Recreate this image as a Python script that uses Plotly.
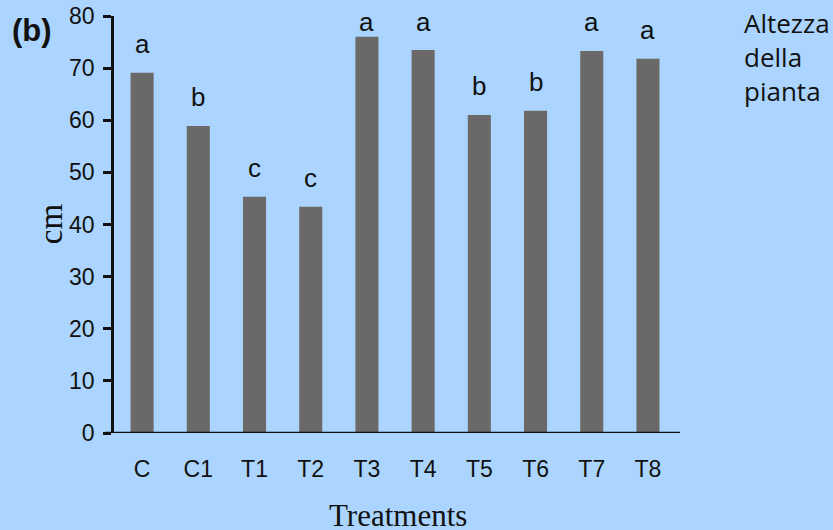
import plotly.graph_objects as go

categories = ["C", "C1", "T1", "T2", "T3", "T4", "T5", "T6", "T7", "T8"]
heights = [69.1, 58.9, 45.3, 43.4, 76.0, 73.5, 61.0, 61.8, 73.3, 71.8]
letters = ["a", "b", "c", "c", "a", "a", "b", "b", "a", "a"]
y_ticks = [0, 10, 20, 30, 40, 50, 60, 70, 80]

BG = "#ABD5FE"
BAR = "#6A6967"
INK = "#111111"

fig = go.Figure()
fig.add_trace(go.Bar(x=list(range(len(categories))), y=heights, marker=dict(color=BAR, line=dict(width=0)),
                     width=0.41, hoverinfo="skip"))

for i, (v, L) in enumerate(zip(heights, letters)):
    fig.add_annotation(x=i, y=min(v + 5.5, 78.9), text=L, showarrow=False, xref="x", yref="y",
                       font=dict(family="Liberation Sans, Arial", size=26, color=INK), yanchor="middle")

fig.add_annotation(xref="paper", yref="paper", x=-0.183, y=0.966, text="<b>(b)</b>", showarrow=False,
                   xanchor="left", yanchor="middle", font=dict(family="Liberation Sans, Arial", size=31, color=INK))
fig.add_annotation(xref="paper", yref="paper", x=1.11, y=1.031, text="Altezza<br>della<br>pianta", showarrow=False,
                   xanchor="left", yanchor="top", align="left",
                   font=dict(family="Open Sans, Noto Sans", size=26, color=INK))
fig.add_annotation(xref="paper", yref="paper", x=0.502, y=-0.197, text="Treatments", showarrow=False,
                   xanchor="center", yanchor="middle",
                   font=dict(family="Liberation Serif, Times New Roman", size=31, color=INK))
fig.add_annotation(xref="paper", yref="paper", x=-0.111, y=0.501, text="cm", showarrow=False, textangle=-90,
                   xanchor="center", yanchor="middle",
                   font=dict(family="Liberation Serif, Times New Roman", size=33, color=INK))

fig.add_shape(type="line", xref="paper", yref="y", x0=-0.015, x1=1.0, y0=0, y1=0, line=dict(color=INK, width=2.5))

fig.update_layout(
    width=833, height=530,
    paper_bgcolor=BG, plot_bgcolor=BG,
    margin=dict(l=114, r=153, t=16, b=97, autoexpand=False),
    showlegend=False,
    xaxis=dict(range=[-0.5, 9.57], tickmode="array", tickvals=list(range(len(categories))), ticktext=categories,
               showgrid=False, zeroline=False, showline=False, ticks="", ticklabelstandoff=20, automargin=False,
               tickfont=dict(family="Liberation Sans, Arial", size=23, color=INK)),
    yaxis=dict(range=[0, 80], tickmode="array", tickvals=y_ticks, showgrid=False, zeroline=False, automargin=False,
               showline=True, linecolor=INK, linewidth=2.5, ticks="outside", ticklen=8, tickwidth=2.5, tickcolor=INK,
               ticklabelstandoff=4,
               tickfont=dict(family="Liberation Sans, Arial", size=23, color=INK)),
)

fig.write_html("out.html", config={"displayModeBar": False},
               post_script="document.body.style.margin='0';document.body.style.background='" + BG + "';")
